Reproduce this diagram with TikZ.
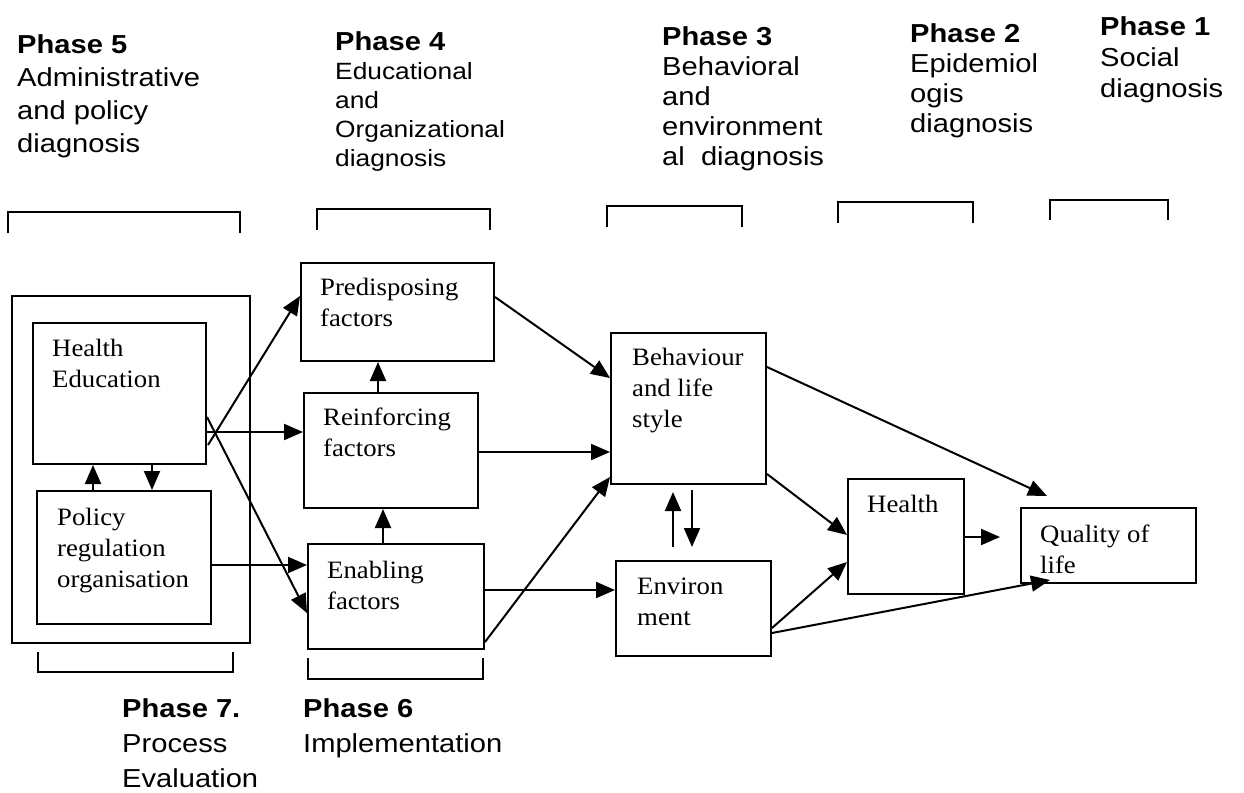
\documentclass[tikz,border=0pt]{standalone}
\usepackage{fontspec}
\setmainfont[FakeStretch=1.07]{Liberation Serif}
\newfontfamily\arialf[FakeStretch=1.12]{Liberation Sans}
\usetikzlibrary{arrows.meta,calc}
\begin{document}
\begin{tikzpicture}[x=1pt,y=-1pt,
  box/.style={draw, line width=2pt, inner sep=0pt, anchor=north west},
  btxt/.style={anchor=north west, inner sep=0pt, align=left, font=\fontsize{25}{31}\selectfont},
  ptxt/.style={anchor=north west, inner sep=0pt, align=left, font=\arialf\fontsize{26}{#1}\selectfont},
  arr/.style={line width=2pt, -{Triangle[length=19pt,width=16pt]}},
  brk/.style={line width=2pt}]
\path[fill=white] (0,0) rectangle (1244,792);
\useasboundingbox (0,0) rectangle (1244,792);

% phase labels
\node[ptxt=33] (p5) at (17,34) {\textbf{Phase 5}\\Administrative\\and policy\\diagnosis};
\node[ptxt=29, font=\arialf\fontsize{23.5}{29}\selectfont] (p4) at (335,31) {{\fontsize{26}{29}\selectfont\bfseries Phase 4}\\Educational\\and\\Organizational\\diagnosis};
\node[ptxt=30] (p3) at (662,26) {\textbf{Phase 3}\\Behavioral\\and\\environment\\al\ \ diagnosis};
\node[ptxt=30] (p2) at (910,23) {\textbf{Phase 2}\\Epidemiol\\ogis\\diagnosis};
\node[ptxt=31] (p1) at (1100,16) {\textbf{Phase 1}\\Social\\diagnosis};
\node[ptxt=35] (p7) at (122,698) {\textbf{Phase 7.}\\Process\\Evaluation};
\node[ptxt=35] (p6) at (303,698) {\textbf{Phase 6}\\Implementation};

% brackets
\draw[brk] (8,233) -- (8,212) -- (240,212) -- (240,233);
\draw[brk] (317,230) -- (317,209) -- (490,209) -- (490,230);
\draw[brk] (607,227) -- (607,206) -- (742,206) -- (742,227);
\draw[brk] (838,223) -- (838,202) -- (973,202) -- (973,223);
\draw[brk] (1050,220) -- (1050,200) -- (1168,200) -- (1168,220);
\draw[brk] (38,652) -- (38,672) -- (233,672) -- (233,652);
\draw[brk] (308,658) -- (308,679) -- (483,679) -- (483,658);

% boxes
\node[box, minimum width=238pt, minimum height=347pt] (frame) at (11,295) {};
\node[box, minimum width=173pt, minimum height=141pt] (he) at (32,322) {};
\node[box, minimum width=174pt, minimum height=133pt] (pol) at (36,490) {};
\node[box, minimum width=193pt, minimum height=98pt] (pre) at (300,262) {};
\node[box, minimum width=174pt, minimum height=115pt] (rei) at (303,392) {};
\node[box, minimum width=176pt, minimum height=105pt] (ena) at (307,543) {};
\node[box, minimum width=155pt, minimum height=151pt] (beh) at (610,332) {};
\node[box, minimum width=155pt, minimum height=95pt] (env) at (615,560) {};
\node[box, minimum width=116pt, minimum height=115pt] (hea) at (847,478) {};
\node[box, minimum width=175pt, minimum height=75pt] (qol) at (1020,507) {};

% box texts
\node[btxt] (het) at ($(he.north west)+(20,17)$) {Health\\Education};
\node[btxt] (polt) at ($(pol.north west)+(21,18)$) {Policy\\regulation\\organisation};
\node[btxt] (pret) at ($(pre.north west)+(20,16)$) {Predisposing\\factors};
\node[btxt] (reit) at ($(rei.north west)+(20,16)$) {Reinforcing\\factors};
\node[btxt] (enat) at ($(ena.north west)+(20,18)$) {Enabling\\factors};
\node[btxt] (beht) at ($(beh.north west)+(22,16)$) {Behaviour\\and life\\style};
\node[btxt] (envt) at ($(env.north west)+(22,18)$) {Environ\\ment};
\node[btxt] (heat) at ($(hea.north west)+(20,17)$) {Health};
\node[btxt] (qolt) at ($(qol.north west)+(20,18)$) {Quality of\\life};

% connectors
\draw[arr] ($(he.south east)+(1,-20)$) -- ($(pre.north west)+(0,34)$);
\draw[arr] ($(he.north east)+(0,110)$) -- ($(rei.north west)+(0,40)$);
\draw[arr] ($(he.north east)+(0,95)$) -- ($(ena.north west)+(0,70)$);
\draw[arr] ($(pol.north east)+(0,75)$) -- ($(ena.north west)+(0,22)$);
\draw[arr] ($(pol.north west)+(57,0)$) -- ($(he.south west)+(61,0)$);
\draw[arr] ($(he.south west)+(120,0)$) -- ($(pol.north west)+(116,0)$);
\draw[arr] ($(rei.north west)+(75,0)$) -- ($(pre.south west)+(78,0)$);
\draw[arr] ($(ena.north west)+(76,0)$) -- ($(rei.south west)+(80,0)$);
\draw[arr] ($(pre.north east)+(0,35)$) -- ($(beh.north west)+(0,46)$);
\draw[arr] ($(rei.north east)+(0,60)$) -- ($(beh.north west)+(0,120)$);
\draw[arr] ($(ena.south east)+(0,-8)$) -- ($(beh.south west)+(0,-8)$);
\draw[arr] ($(ena.north east)+(0,47)$) -- ($(env.north west)+(0,30)$);
\draw[arr] ($(env.north west)+(58,-13)$) -- ($(beh.south west)+(63,7)$);
\draw[arr] ($(beh.south west)+(82,5)$) -- ($(env.north west)+(77,-13)$);
\draw[arr] ($(beh.north east)+(0,35)$) -- ($(qol.north west)+(27,-11)$);
\draw[arr] ($(beh.south east)+(0,-11)$) -- ($(hea.north west)+(0,57)$);
\draw[arr] ($(env.north east)+(0,68)$) -- ($(hea.north west)+(0,84)$);
\draw[arr] ($(env.north east)+(0,73)$) -- ($(qol.south west)+(30,-4)$);
\draw[arr] ($(hea.north east)+(0,59)$) -- ($(qol.north west)+(-20,30)$);
\end{tikzpicture}
\end{document}
